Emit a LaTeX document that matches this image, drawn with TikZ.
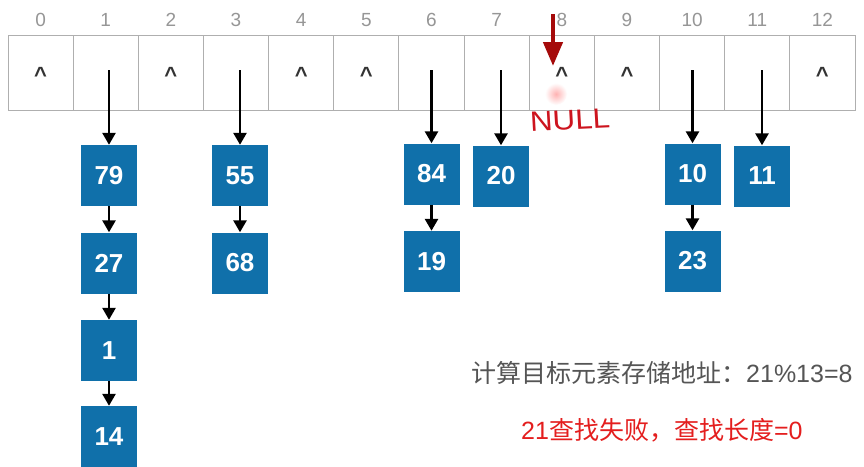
\documentclass[tikz,border=0pt]{standalone}
\usepackage{fontspec}
\setmainfont{Liberation Sans}
\newfontfamily\cjk{Noto Sans CJK SC}
\usetikzlibrary{arrows.meta}
\definecolor{boxblue}{RGB}{16,112,170}
\definecolor{nullred}{RGB}{205,20,30}
\definecolor{arrred}{RGB}{165,10,10}
\definecolor{txtred}{RGB}{228,30,30}
\definecolor{txtgray}{RGB}{85,85,85}
\definecolor{idxgray}{RGB}{150,150,150}
\definecolor{linegray}{RGB}{175,175,175}
\begin{document}
\begin{tikzpicture}[x=1pt,y=-1pt,
  cell/.style={draw=linegray,line width=0.9pt,minimum width=65.15pt,minimum height=75pt,inner sep=0pt,outer sep=0pt},
  idx/.style={text=idxgray,font=\fontsize{19}{19}\selectfont,inner sep=0pt},
  caret/.style={text=black!80,font=\fontsize{22}{22}\selectfont\bfseries,inner sep=0pt,anchor=base},
  blk/.style={fill=boxblue,minimum width=56pt,minimum height=61pt,inner sep=0pt,text=white,font=\fontsize{26}{26}\selectfont\bfseries},
  arr/.style={line width=2.7pt,-{Triangle[width=13pt,length=12pt]}},
]
\useasboundingbox (0,0) rectangle (864,466);
\fill[white] (0,0) rectangle (864,466);
% table
\foreach \i in {0,...,12}{
  \node[cell] (c\i) at ({8+65.15*\i+32.575},72.5) {};
  \node[idx] (l\i) at ({8+65.15*\i+32.575},20) {\i};
}
\foreach \i in {0,2,4,5,8,9,12}{
  \node[caret] (k\i) at ({8+65.15*\i+32.575},82) {\textasciicircum};
}
% blue boxes
\node[blk] (b79) at (109,175.5) {79};
\node[blk] (b27) at (109,263) {27};
\node[blk] (b1)  at (109,350.5) {1};
\node[blk] (b14) at (109,436.5) {14};
\node[blk] (b55) at (240,175.5) {55};
\node[blk] (b68) at (240,263) {68};
\node[blk] (b84) at (431.5,174) {84};
\node[blk] (b19) at (431.5,261.5) {19};
\node[blk] (b20) at (501,176) {20};
\node[blk] (b10) at (692.5,174) {10};
\node[blk] (b23) at (692.5,261) {23};
\node[blk] (b11) at (762,176) {11};
% start points in cells
\coordinate (s1) at (109,70);
\coordinate (s3) at (240,70);
\coordinate (s6) at (431.5,70);
\coordinate (s7) at (501,70);
\coordinate (s10) at (692.5,70);
\coordinate (s11) at (762,70);
\draw[arr] (s1) -- (b79.north);
\draw[arr] (s3) -- (b55.north);
\draw[arr] (s6) -- (b84.north);
\draw[arr] (s7) -- (b20.north);
\draw[arr] (s10) -- (b10.north);
\draw[arr] (s11) -- (b11.north);
\draw[arr] (b79) -- (b27);
\draw[arr] (b27) -- (b1);
\draw[arr] (b1) -- (b14);
\draw[arr] (b55) -- (b68);
\draw[arr] (b84) -- (b19);
\draw[arr] (b10) -- (b23);
% red pointer
\shade[inner color=red!30,outer color=white] (556,94) circle (11);
\coordinate (rtop) at (553,14);
\coordinate (rtip) at (553,66);
\draw[arrred,line width=4.5pt,-{Triangle[width=19pt,length=24pt]}] (rtop) -- (rtip);
\node[text=nullred,font=\fontsize{28}{28}\selectfont,xscale=1.12,rotate=3,inner sep=0pt] (null) at (570,120) {NULL};
% texts
\node[anchor=west,inner sep=0pt,text=txtgray,font=\fontsize{25}{25}\selectfont] (t1) at (471,373) {{\cjk 计算目标元素存储地址：}21\%13=8};
\node[anchor=west,inner sep=0pt,text=txtred,font=\fontsize{25}{25}\selectfont] (t2) at (521,430) {21{\cjk 查找失败，查找长度}=0};
\end{tikzpicture}
\end{document}
